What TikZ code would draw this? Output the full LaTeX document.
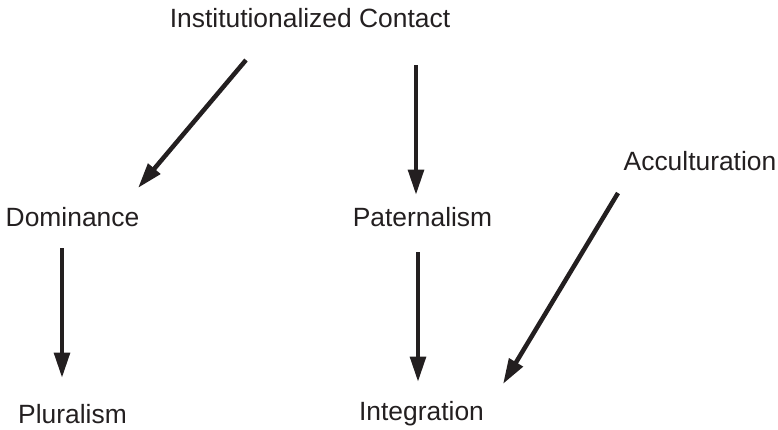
\documentclass[tikz,border=0pt]{standalone}
\usepackage{fontspec}
\setmainfont{Liberation Sans}
\usetikzlibrary{arrows.meta}
\definecolor{ink}{HTML}{231F20}
\begin{document}
\begin{tikzpicture}[x=0.75pt,y=-0.75pt,
  lbl/.style={anchor=base,inner sep=0pt,text=ink,font=\fontsize{19.8pt}{22pt}\selectfont},
  arr/.style={draw=ink,line width=3.4pt,-{Triangle[length=19pt,width=11.5pt]}}]
\useasboundingbox (0,0) rectangle (778,429);
\node[lbl] (ic) at (310,27) {Institutionalized Contact};
\node[lbl] (dom) at (72.5,226) {Dominance};
\node[lbl] (pat) at (422.5,226) {Paternalism};
\node[lbl] (acc) at (700,170) {Acculturation};
\node[lbl] (plu) at (72.5,423) {Pluralism};
\node[lbl] (int) at (421.5,420) {Integration};
\coordinate (a1s) at (246,60);
\coordinate (a1e) at (138,188);
\coordinate (a2s) at (416,65);
\coordinate (a2e) at (416,195);
\coordinate (a3s) at (62,248);
\coordinate (a3e) at (62,378);
\coordinate (a4s) at (418,252);
\coordinate (a4e) at (418,382);
\coordinate (a5s) at (618,193);
\coordinate (a5e) at (503,384);
\draw[arr] (a1s) -- (a1e);
\draw[arr] (a2s) -- (a2e);
\draw[arr] (a3s) -- (a3e);
\draw[arr] (a4s) -- (a4e);
\draw[arr] (a5s) -- (a5e);
\end{tikzpicture}
\end{document}
